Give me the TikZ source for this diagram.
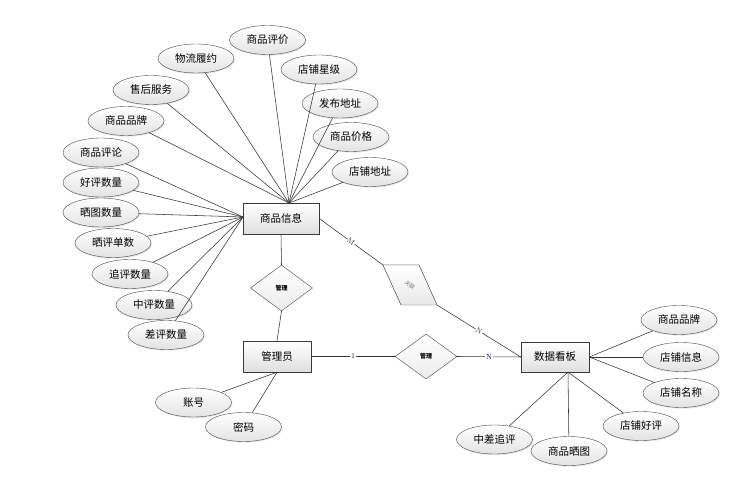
\documentclass[tikz,border=0pt]{standalone}
\usepackage{fontspec}
\newfontfamily\cjk{Noto Sans CJK SC}
\usetikzlibrary{shapes.geometric,shadows}
\begin{document}
\begin{tikzpicture}[x=1pt,y=-1pt,
  attr/.style={ellipse, draw=gray!55!black, top color=white, bottom color=gray!22, minimum width=76pt, minimum height=29pt, inner sep=0pt, font=\cjk\fontsize{10.5}{12}\selectfont, drop shadow={opacity=0.18,shadow xshift=1pt,shadow yshift=-1.2pt}},
  ent/.style={rectangle, draw=gray!45!black, top color=white, bottom color=gray!25, inner sep=0pt, font=\cjk\fontsize{10.5}{12}\selectfont, drop shadow={opacity=0.18,shadow xshift=1pt,shadow yshift=-1.2pt}},
  rel/.style={diamond, draw=gray!55!black, top color=white, bottom color=gray!15, minimum width=62pt, minimum height=46pt, inner sep=0pt, font=\cjk\fontsize{6}{7}\selectfont\bfseries},
  conn/.style={draw=gray!40!black, line width=0.55pt},
  card/.style={fill=white, inner sep=0.6pt, font=\fontsize{7.5}{8}\selectfont, text=black!85}]
\useasboundingbox[fill=white] (0,0) rectangle (756,494);

% entities
\node[ent, minimum width=76pt, minimum height=31pt] (goods) at (281,218.5) {商品信息};
\node[ent, minimum width=68pt, minimum height=31pt] (admin) at (277,356.5) {管理员};
\node[ent, minimum width=68pt, minimum height=30pt] (board) at (555,357) {数据看板};

% relations
\node[rel] (r1) at (281.5,288) {管理};
\node[rel, minimum height=45pt] (r2) at (426,356.5) {管理};
\coordinate (pA) at (383,265);
\coordinate (pB) at (419,265);
\coordinate (pC) at (437,305);
\coordinate (pD) at (401,305);
\filldraw[draw=gray!55!black, top color=white, bottom color=gray!18] (pA) -- (pB) -- (pC) -- (pD) -- cycle;
\node[rotate=-40, font=\cjk\fontsize{5.5}{7}\selectfont, text=gray, inner sep=0pt] (rl) at (410,285) {关联};

% goods attributes
\coordinate (gt) at (289,203);
\coordinate (gl) at (243,217);
\node[attr] (a1) at (267.5,40) {商品评价};
\node[attr] (a2) at (196,58.5) {物流履约};
\node[attr] (a3) at (319,69.5) {店铺星级};
\node[attr] (a4) at (151,90) {售后服务};
\node[attr] (a5) at (340,103.5) {发布地址};
\node[attr] (a6) at (126,121) {商品品牌};
\node[attr] (a7) at (351,137) {商品价格};
\node[attr] (a8) at (101,152.5) {商品评论};
\node[attr] (a9) at (370,172) {店铺地址};
\node[attr] (a10) at (101,182.5) {好评数量};
\node[attr] (a11) at (101,212.5) {晒图数量};
\node[attr] (a12) at (113,243) {晒评单数};
\node[attr] (a13) at (130,274) {追评数量};
\node[attr] (a14) at (154,305) {中评数量};
\node[attr] (a15) at (166,335) {差评数量};
\foreach \i in {1,2,3,4,5,6,7,9} \draw[conn] (a\i) -- (gt);
\foreach \i in {8,10,11,12,13,14,15} \draw[conn] (a\i) -- (gl);

% admin attributes
\node[attr] (b1) at (193.5,402.5) {账号};
\node[attr] (b2) at (243.5,427) {密码};
\draw[conn] (b1) -- (admin.south);
\draw[conn] (b2) -- (admin.south);

% board attributes
\coordinate (bb) at (568,372);
\node[attr] (c1) at (679,320) {商品品牌};
\node[attr] (c2) at (681,357) {店铺信息};
\node[attr] (c3) at (681,393) {店铺名称};
\node[attr] (c4) at (641,426) {店铺好评};
\node[attr] (c5) at (569,451) {商品晒图};
\node[attr] (c6) at (494.5,439.5) {中差追评};
\foreach \i in {1,2,3} \draw[conn] (c\i) -- (board.east);
\foreach \i in {4,5,6} \draw[conn] (c\i) -- (bb);

% relationship connectors
\draw[conn] (goods.south) -- (r1.north);
\draw[conn] (r1.south) -- (admin.north);
\draw[conn] (admin.east) -- node[card] (l1) {1} (r2.west);
\draw[conn] (r2.east) -- node[card, text=blue!50!black] (l2) {N} (board.west);
\draw[conn] (goods.east) -- node[card, rotate=-36] (l3) {M} (pA);
\draw[conn] (pC) -- node[card, rotate=-32] (l4) {N} (board.west);
\end{tikzpicture}
\end{document}
